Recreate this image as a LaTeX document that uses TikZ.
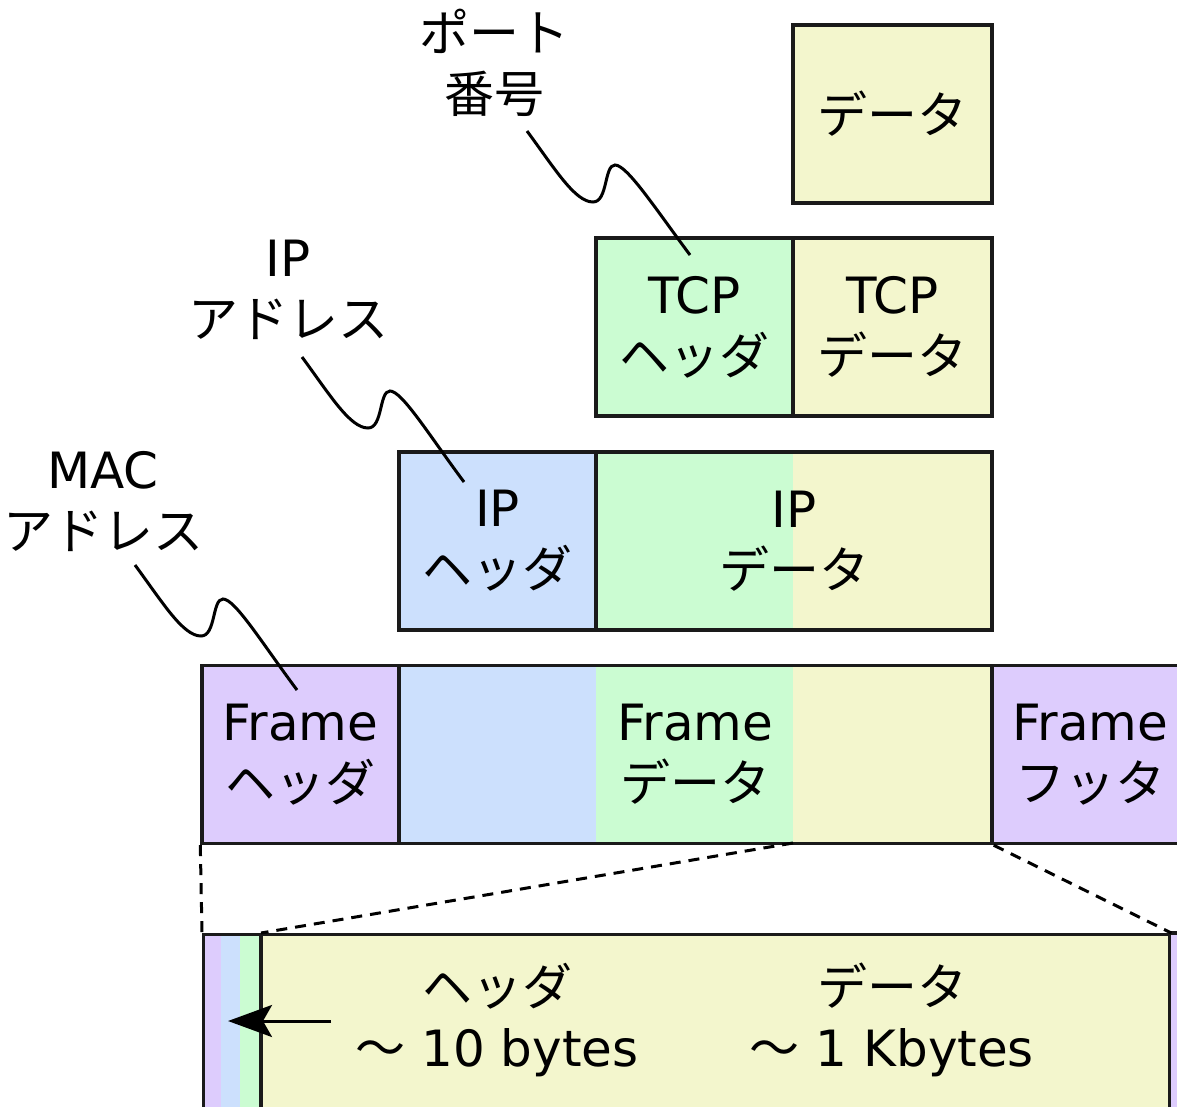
\documentclass[tikz,border=0pt]{standalone}
\usepackage{fontspec}
\setmainfont{DejaVu Sans}
\newfontfamily\jp{Noto Sans CJK JP}
\usetikzlibrary{arrows.meta,calc}
\definecolor{cpurple}{HTML}{DDCCFD}
\definecolor{cblue}{HTML}{CCE0FD}
\definecolor{cgreen}{HTML}{CBFCD2}
\definecolor{cyellow}{HTML}{F3F6CD}
\definecolor{cline}{HTML}{1A1A1A}
\begin{document}
\begin{tikzpicture}[x=1pt,y=-1pt,
  txt/.style={align=center, inner sep=0pt, font=\fontsize{50}{61}\selectfont},
  box/.style={txt, draw=cline, line width=3.4pt, minimum width=#1, minimum height=178pt},
  box/.default=197,
  edge/.style={draw=cline, line width=3.4pt},
  callout/.style={draw=black, line width=3pt},
  zoomline/.style={draw=black, line width=3pt, dash pattern=on 11pt off 8pt}]
\useasboundingbox (0,0) rectangle (1177,1106);
\clip (0,0) rectangle (1177,1106);

% application data
\node[box=199, fill=cyellow] (data) at (892.5,114) {\jp データ};

% TCP segment
\node[box, fill=cgreen] (tcph) at (694.5,327) {TCP\\\jp ヘッダ};
\node[box=199, fill=cyellow] (tcpd) at (892.5,327) {TCP\\\jp データ};

% IP packet
\fill[cgreen] (596,452) rectangle (793,630);
\fill[cyellow] (793,452) rectangle (992,630);
\node[box, fill=cblue] (iph) at (497.5,541) {IP\\\jp ヘッダ};
\node[box=396] (ipd) at (794,541) {IP\\\jp データ};

% Frame
\fill[cblue] (399,666) rectangle (596,843);
\fill[cgreen] (596,666) rectangle (793,843);
\fill[cyellow] (793,666) rectangle (992,843);
\node[box, fill=cpurple] (fh) at (300.5,754.5) {Frame\\\jp ヘッダ};
\node[box=593] (fd) at (695.5,754.5) {Frame\\\jp データ};
\node[box, fill=cpurple] (ff) at (1090.5,754.5) {Frame\\\jp フッタ};

% zoomed frame
\fill[cpurple] (202,933) rectangle (221,1140);
\fill[cblue] (221,933) rectangle (240,1140);
\fill[cgreen] (240,933) rectangle (261,1140);
\fill[cyellow] (261,933) rectangle (1168,1140);
\fill[cpurple] (1168,933) rectangle (1190,1140);
\node[edge, fill=none, anchor=north west, minimum width=966pt, minimum height=207pt, inner sep=0pt] (bot) at (202,933) {};
\coordinate (bsplit) at (261,933);
\coordinate (bsplitlow) at (261,1140);
\coordinate (bend) at (1190,933);
\draw[edge] (bsplit) -- (bsplitlow);
\draw[edge] (bot.north east) -- (bend);

\node[txt] (bh) at (497,1020) {{\jp ヘッダ}\\{\jp ～} 10 bytes};
\node[txt] (bd) at (892,1020) {{\jp データ}\\{\jp ～} 1 Kbytes};

\coordinate (atail) at (331,1021);
\coordinate (ahead) at (228,1021);
\draw[line width=3pt, -{Stealth[length=44pt,width=32pt,inset=9pt]}] (atail) -- (ahead);

% zoom lines
\coordinate (fdmid) at (793,843);
\draw[zoomline] (fh.south west) -- (bot.north west);
\draw[zoomline] (fdmid) -- (bsplit);
\draw[zoomline] (fd.south east) -- (bot.north east);

% callouts
\node[txt] (port) at (494,63) {\jp ポート\\\jp 番号};
\node[txt] (ipaddr) at (288,290) {IP\\\jp アドレス};
\node[txt] (mac) at (103,502) {MAC\\\jp アドレス};

\coordinate (portS) at (527,131);
\coordinate (portE) at (690,255);
\coordinate (ipS) at (302,357);
\coordinate (ipE) at (464,482);
\coordinate (macS) at (135,565);
\coordinate (macE) at (297,690);

\foreach \s/\e in {portS/portE, ipS/ipE, macS/macE}{
  \draw[callout] (\s) .. controls +(28,38) and +(-18,0) .. ($(\s)+(66,71)$)
    .. controls +(15,0) and +(-11,0) .. ($(\s)+(88,34)$)
    .. controls +(12,0) and +(-35,-47) .. (\e);
}
\end{tikzpicture}
\end{document}
